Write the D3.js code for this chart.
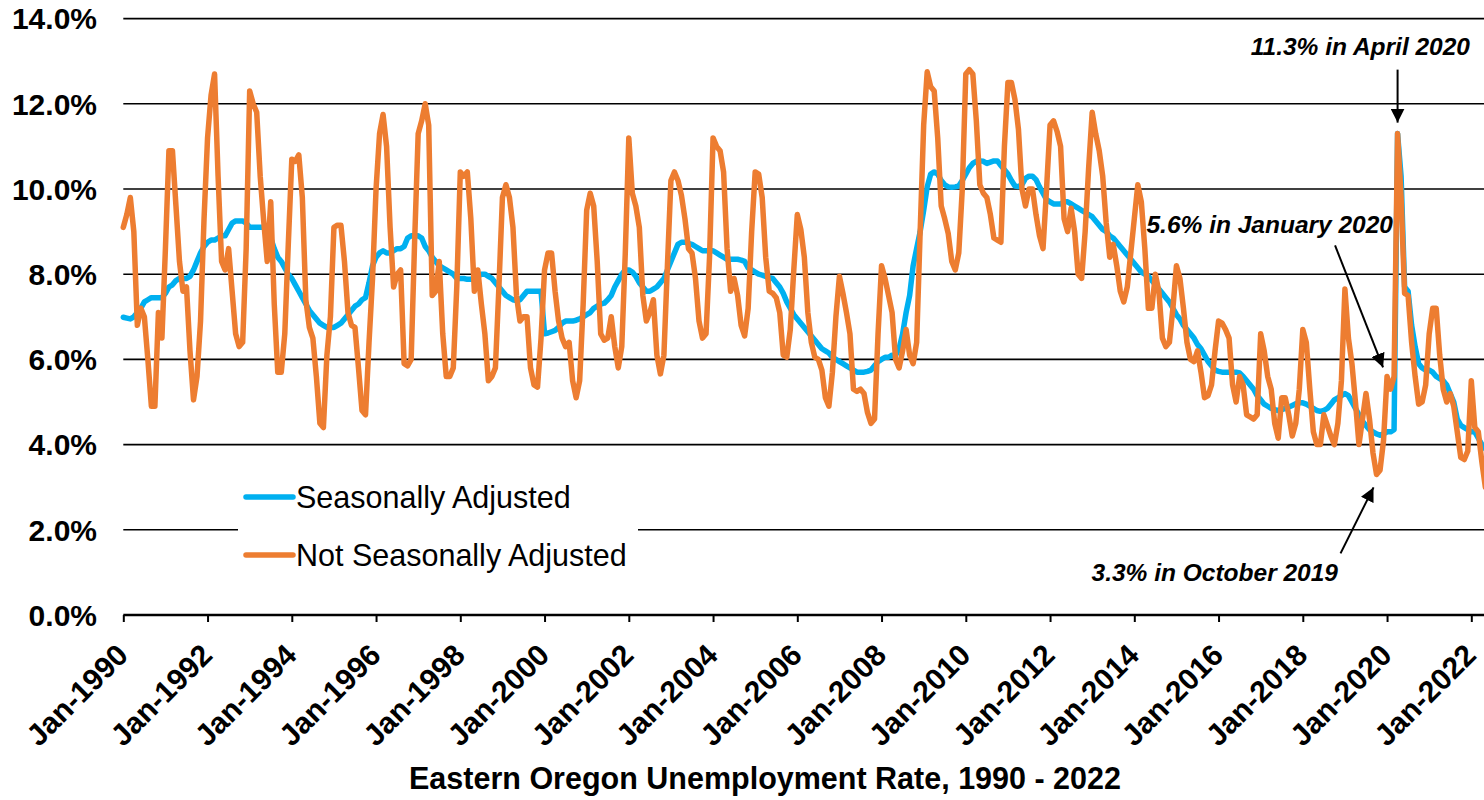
<!DOCTYPE html>
<html><head><meta charset="utf-8">
<script src="https://cdn.jsdelivr.net/npm/d3@7"></script>
<style>
html,body{margin:0;padding:0;background:#fff;}
svg{display:block;font-family:"Liberation Sans",Arial,sans-serif;}
</style></head><body>
<svg id="chart" width="1484" height="800"></svg>
<script>
// ---- data (monthly, starting Jan 1990) ----
const startYear = 1990;
const seriesNames = ["Seasonally Adjusted", "Not Seasonally Adjusted"];

// Not seasonally adjusted rate (%)
const nsa1990s = [
  9.1, 9.4, 9.8, 9.0, 6.8, 7.2, 7.0, 6.0, 4.9, 4.9, 7.1, 6.5,
  8.6, 10.9, 10.9, 9.6, 8.3, 7.6, 7.7, 6.2, 5.05, 5.6, 6.9, 9.3,
  11.2, 12.2, 12.7, 10.3, 8.3, 8.1, 8.6, 7.6, 6.6, 6.3, 6.4, 8.6,
  12.3, 12.0, 11.8, 10.3, 9.25, 8.3, 9.7, 7.3, 5.7, 5.7, 6.6, 8.7,
  10.7, 10.65, 10.8, 9.8, 7.4, 6.75, 6.5, 5.6, 4.5, 4.4, 6.1, 7.0,
  9.1, 9.15, 9.15, 8.3, 7.1, 6.8, 6.75, 5.8, 4.8, 4.7, 6.4, 7.9,
  10.0, 11.3, 11.75, 11.0, 9.1, 7.7, 8.0, 8.1, 5.9, 5.85, 6.0, 8.8,
  11.3, 11.6, 12.0, 11.5, 7.5, 7.6, 8.3, 6.6, 5.6, 5.6, 5.8, 7.7,
  10.4, 10.3, 10.4, 9.3, 7.6, 8.1, 7.3, 6.6, 5.5, 5.6, 5.8, 7.7,
  9.8, 10.1, 9.8, 9.1, 7.5, 6.9, 7.0, 7.0, 5.8, 5.4, 5.35, 6.5
];
const nsa2000s = [
  8.1, 8.5, 8.5, 7.6, 6.9, 6.5, 6.3, 6.4, 5.5, 5.1, 5.5, 7.3,
  9.5, 9.9, 9.6, 8.3, 6.6, 6.45, 6.5, 7.0, 6.3, 5.8, 6.3, 8.5,
  11.2, 9.9, 9.6, 9.1, 7.5, 6.9, 7.1, 7.4, 6.1, 5.66, 6.1, 8.2,
  10.2, 10.4, 10.2, 9.85, 9.3, 8.6, 8.5, 7.9, 6.9, 6.5, 6.6, 8.4,
  11.2, 11.0, 10.9, 10.4, 8.6, 7.6, 7.9, 7.5, 6.8, 6.55, 7.2, 9.0,
  10.4, 10.35, 9.8, 8.4, 7.6, 7.55, 7.45, 7.1, 6.1, 6.05, 6.7, 8.1,
  9.4, 9.05, 8.4, 7.1, 6.4, 6.05, 6.0, 5.75, 5.1, 4.9, 5.7, 7.0,
  7.95, 7.55, 7.1, 6.6, 5.3, 5.25, 5.3, 5.2, 4.75, 4.5, 4.6, 6.6,
  8.2, 7.9, 7.5, 7.1, 6.0, 5.8, 6.2, 6.7, 6.1, 5.9, 6.4, 9.0,
  11.5, 12.75, 12.4, 12.3, 11.2, 9.6, 9.3, 8.95, 8.3, 8.1, 8.5, 10.0
];
const nsa2010s = [
  12.7, 12.8, 12.7, 11.6, 10.1, 9.9, 9.8, 9.4, 8.85, 8.8, 8.75, 11.0,
  12.5, 12.5, 12.1, 11.4, 10.0, 9.6, 10.0, 10.0, 9.4, 8.9, 8.6, 10.0,
  11.5, 11.6, 11.35, 11.0, 9.3, 9.0, 9.55, 9.0, 8.0, 7.9, 9.0, 10.5,
  11.8, 11.3, 10.9, 10.3, 9.2, 8.4, 8.7, 8.2, 7.6, 7.35, 7.7, 8.5,
  9.3, 10.1, 9.7, 8.6, 7.2, 7.2, 8.0, 7.6, 6.5, 6.3, 6.4, 7.2,
  8.2, 7.9, 7.2, 6.4, 6.0, 5.95, 6.2, 5.7, 5.1, 5.15, 5.4, 6.2,
  6.9, 6.85, 6.7, 6.5, 5.4, 5.0, 5.6, 5.4, 4.7, 4.65, 4.6, 4.7,
  6.6, 6.2, 5.6, 5.3, 4.5, 4.15, 5.1, 5.1, 4.7, 4.2, 4.5, 5.3,
  6.7, 6.4, 5.3, 4.3, 4.0, 4.0, 4.7, 4.45, 4.2, 4.0, 4.5, 5.5,
  7.65, 6.5, 5.9, 5.0, 4.0, 4.6, 5.2, 4.6, 3.8, 3.3, 3.4, 4.1
];
const nsa2020s = [
  5.6, 5.3, 5.6, 11.3, 9.8, 7.55, 7.5, 6.4, 5.6, 4.95, 5.0, 5.4,
  6.6, 7.2, 7.2, 6.1, 5.3, 5.0, 5.2, 4.9, 4.3, 3.7, 3.65, 3.85,
  5.5, 4.4, 4.3, 3.6, 3.0
];

// Seasonally adjusted rate (%)
const sa1990s = [
  6.99, 6.97, 6.95, 7.0, 7.1, 7.2, 7.35, 7.4, 7.45, 7.45, 7.45, 7.45,
  7.55, 7.7, 7.75, 7.85, 7.9, 7.9, 7.9, 7.95, 8.1, 8.3, 8.5, 8.65,
  8.75, 8.8, 8.8, 8.85, 8.9, 8.9, 9.05, 9.2, 9.25, 9.25, 9.25, 9.2,
  9.1, 9.1, 9.1, 9.1, 9.1, 9.0, 8.85, 8.6, 8.4, 8.3, 8.15, 8.0,
  7.9, 7.75, 7.6, 7.45, 7.3, 7.15, 7.05, 6.95, 6.85, 6.8, 6.75, 6.75,
  6.75, 6.8, 6.85, 6.95, 7.05, 7.15, 7.25, 7.3, 7.4, 7.45, 7.8, 8.2,
  8.4, 8.5, 8.55, 8.5, 8.5, 8.55, 8.6, 8.6, 8.65, 8.85, 8.9, 8.9,
  8.9, 8.85, 8.65, 8.55, 8.4, 8.3, 8.2, 8.15, 8.1, 8.05, 8.0, 7.9,
  7.9, 7.9, 7.88, 7.88, 7.9, 7.95, 8.0, 8.0, 7.95, 7.9, 7.8, 7.7,
  7.6, 7.5, 7.45, 7.4, 7.38, 7.4, 7.5, 7.6, 7.6, 7.6, 7.6, 7.6
];
const sa2000s = [
  6.6, 6.62, 6.65, 6.68, 6.75, 6.85, 6.9, 6.9, 6.9, 6.92, 6.95, 7.0,
  7.05, 7.1, 7.2, 7.25, 7.3, 7.32, 7.4, 7.5, 7.7, 7.85, 8.0, 8.1,
  8.1, 8.05, 7.95, 7.8, 7.7, 7.6, 7.6, 7.65, 7.7, 7.8, 7.9, 8.1,
  8.3, 8.5, 8.7, 8.75, 8.75, 8.72, 8.7, 8.65, 8.6, 8.55, 8.55, 8.55,
  8.55, 8.5, 8.45, 8.4, 8.35, 8.35, 8.35, 8.35, 8.33, 8.3, 8.15, 8.1,
  8.05, 8.0, 7.98, 7.95, 7.92, 7.9, 7.8, 7.7, 7.55, 7.35, 7.2, 7.05,
  6.95, 6.85, 6.75, 6.65, 6.55, 6.45, 6.35, 6.25, 6.2, 6.15, 6.05, 6.0,
  5.95, 5.9, 5.85, 5.8, 5.75, 5.7, 5.7, 5.7, 5.72, 5.75, 5.85, 5.95,
  6.0, 6.05, 6.05, 6.1, 6.1, 6.25, 6.6, 7.1, 7.5, 8.2, 8.6, 9.0,
  9.5, 10.05, 10.35, 10.4, 10.35, 10.2, 10.1, 10.05, 10.04, 10.05, 10.07, 10.2
];
const sa2010s = [
  10.35, 10.5, 10.6, 10.65, 10.66, 10.65, 10.6, 10.63, 10.66, 10.66, 10.55, 10.45,
  10.35, 10.2, 10.07, 10.06, 10.1, 10.25, 10.3, 10.3, 10.22, 10.05, 9.9, 9.75,
  9.7, 9.65, 9.65, 9.65, 9.7, 9.7, 9.65, 9.6, 9.55, 9.5, 9.45, 9.4,
  9.35, 9.25, 9.15, 9.05, 9.0, 8.9, 8.85, 8.75, 8.65, 8.55, 8.45, 8.35,
  8.25, 8.15, 8.05, 8.0, 7.95, 7.85, 7.75, 7.65, 7.55, 7.45, 7.35, 7.2,
  7.05, 6.95, 6.8, 6.7, 6.6, 6.5, 6.35, 6.25, 6.1, 5.95, 5.85, 5.75,
  5.72, 5.7, 5.7, 5.7, 5.7, 5.7, 5.68, 5.6, 5.5, 5.4, 5.3, 5.15,
  5.05, 4.95, 4.9, 4.85, 4.82, 4.8, 4.82, 4.85, 4.88, 4.92, 4.96, 4.98,
  4.98, 4.95, 4.9, 4.85, 4.8, 4.78, 4.8, 4.85, 4.95, 5.05, 5.1, 5.15,
  5.2, 5.15, 5.0, 4.85, 4.7, 4.55, 4.45, 4.35, 4.3, 4.25, 4.22, 4.25
];
const sa2020s = [
  4.3, 4.3, 4.35, 11.3, 10.3, 7.7, 7.6, 6.8, 6.3, 5.9, 5.8, 5.75,
  5.75, 5.7, 5.6, 5.55, 5.5, 5.4, 5.2, 5.0, 4.6, 4.45, 4.4, 4.35,
  4.3, 4.3, 4.15, 4.0, 3.9
];

const yTickValues = [0, 2, 4, 6, 8, 10, 12, 14];
const xTickYears = [1990,1992,1994,1996,1998,2000,2002,2004,2006,2008,2010,2012,2014,2016,2018,2020,2022];
const annotations = [
  {text: "11.3% in April 2020", year: 2020, month: 3, value: 11.3},
  {text: "5.6% in January 2020", year: 2020, month: 0, value: 5.6},
  {text: "3.3% in October 2019", year: 2019, month: 9, value: 3.3}
];
const chartTitle = "Eastern Oregon Unemployment Rate, 1990 - 2022";
const monthNames = ["Jan","Feb","Mar","Apr","May","Jun","Jul","Aug","Sep","Oct","Nov","Dec"];

// ---- build ----
const nsa = [].concat(nsa1990s, nsa2000s, nsa2010s, nsa2020s);
const sa = [].concat(sa1990s, sa2000s, sa2010s, sa2020s);
const idx = (y, m) => (y - startYear) * 12 + m;

const svg = d3.select("#chart");
const W = 1484, H = 800;
const x = d3.scaleLinear().domain([0, idx(2022, 0)]).range([123.3, 1471.3]);
const y = d3.scaleLinear().domain([0, 14]).range([615, 18.6]);

const BLUE = "#00B0F0", ORANGE = "#ED7D31";

// gridlines
svg.append("g").selectAll("line").data(yTickValues.filter(v => v > 0)).join("line")
  .attr("x1", x(0)).attr("x2", W).attr("y1", d => y(d)).attr("y2", d => y(d))
  .attr("stroke", "#000").attr("stroke-width", 1.6);

// y labels
svg.append("g").selectAll("text").data(yTickValues).join("text")
  .attr("x", 97).attr("y", d => y(d)).attr("dy", "0.36em")
  .attr("text-anchor", "end").attr("font-weight", "bold").attr("font-size", 30)
  .attr("fill", "#000")
  .text(d => d3.format(".1f")(d) + "%");

// x axis
const xAxis = d3.axisBottom(x)
  .tickValues(xTickYears.map(yr => idx(yr, 0)))
  .tickFormat(d => monthNames[d % 12] + "-" + (startYear + Math.floor(d / 12)))
  .tickSize(7).tickSizeOuter(0);
const gx = svg.append("g").attr("transform", `translate(0,${y(0)})`).call(xAxis);
gx.select(".domain").remove();
gx.selectAll(".tick line").attr("stroke", "#000").attr("stroke-width", 2);
gx.selectAll(".tick text")
  .attr("x", 0).attr("y", 0).attr("dy", 0)
  .attr("transform", "translate(6,42) rotate(-45)")
  .attr("text-anchor", "end")
  .attr("font-family", "'Liberation Sans', Arial, sans-serif")
  .attr("font-weight", "bold").attr("font-size", 30).attr("fill", "#000");
svg.append("line").attr("x1", x(0)).attr("x2", W).attr("y1", y(0)).attr("y2", y(0))
  .attr("stroke", "#000").attr("stroke-width", 2.5);

// legend background (covers gridline)
const legend = svg.append("g");
legend.append("rect").attr("x", 238).attr("y", 470).attr("width", 400).attr("height", 108).attr("fill", "#fff");

// lines
const line = d3.line().x((d, i) => x(i)).y(d => y(d)).curve(d3.curveLinear);
svg.append("path").datum(sa).attr("d", line).attr("fill", "none")
  .attr("stroke", BLUE).attr("stroke-width", 5.5).attr("stroke-linejoin", "round").attr("stroke-linecap", "round");
svg.append("path").datum(nsa).attr("d", line).attr("fill", "none")
  .attr("stroke", ORANGE).attr("stroke-width", 5.5).attr("stroke-linejoin", "round").attr("stroke-linecap", "round");

// legend entries
const legendItems = [{name: seriesNames[0], color: BLUE, y: 497}, {name: seriesNames[1], color: ORANGE, y: 555}];
legendItems.forEach(it => {
  legend.append("line").attr("x1", 246).attr("x2", 293).attr("y1", it.y).attr("y2", it.y)
    .attr("stroke", it.color).attr("stroke-width", 5.5).attr("stroke-linecap", "round");
  legend.append("text").attr("x", 296).attr("y", it.y).attr("dy", "0.36em")
    .attr("font-size", 30.5).attr("fill", "#000").text(it.name);
});

// annotations
const defs = svg.append("defs");
defs.append("marker").attr("id", "arrow").attr("viewBox", "0 0 10 10")
  .attr("refX", 10).attr("refY", 5).attr("markerWidth", 14).attr("markerHeight", 14)
  .attr("markerUnits", "userSpaceOnUse").attr("orient", "auto")
  .append("path").attr("d", "M0,0 L10,5 L0,10 Z").attr("fill", "#000");

const annLayout = [
  {tx: 1470, ty: 55, from: [0, -64], to: [0, -11]},
  {tx: 1393, ty: 233, from: [-52, -131], to: [-4, -9]},
  {tx: 1338, ty: 581, from: [-36, 79], to: [-3, 13]}
];
annotations.forEach((a, i) => {
  const L = annLayout[i];
  const px = x(idx(a.year, a.month)), py = y(a.value);
  svg.append("text").attr("x", L.tx).attr("y", L.ty).attr("text-anchor", "end")
    .attr("font-weight", "bold").attr("font-style", "italic").attr("font-size", 24.5)
    .attr("fill", "#000").text(a.text);
  svg.append("line")
    .attr("x1", px + L.from[0]).attr("y1", py + L.from[1])
    .attr("x2", px + L.to[0]).attr("y2", py + L.to[1])
    .attr("stroke", "#000").attr("stroke-width", 2).attr("marker-end", "url(#arrow)");
});

// title
svg.append("text").attr("x", 765).attr("y", 789).attr("text-anchor", "middle")
  .attr("font-weight", "bold").attr("font-size", 30.5).attr("fill", "#000").text(chartTitle);
</script>
</body></html>
